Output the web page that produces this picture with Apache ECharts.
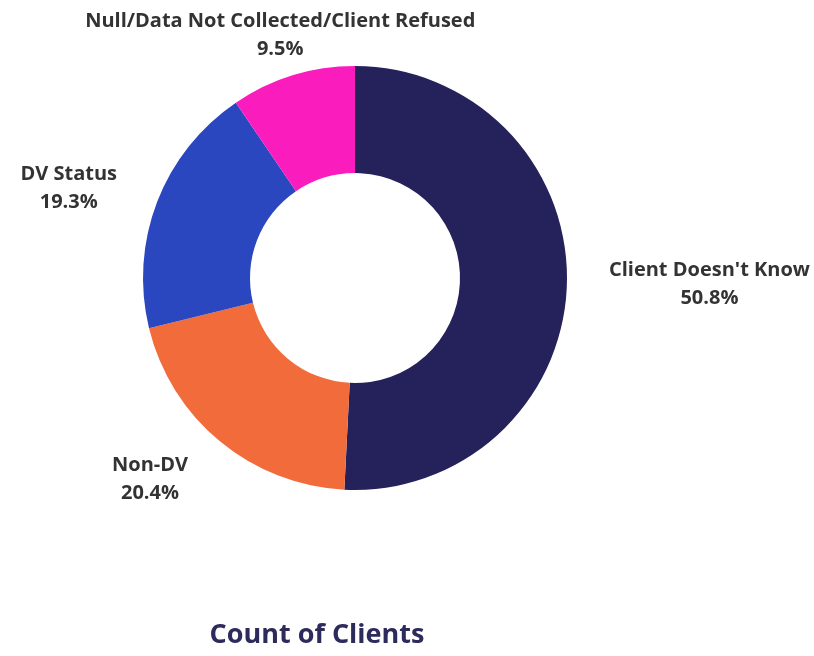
<!DOCTYPE html>
<html>
<head>
<meta charset="utf-8">
<title>Count of Clients</title>
<script src="https://cdn.jsdelivr.net/npm/echarts@6/dist/echarts.min.js"></script>
<style>
  html, body { margin: 0; padding: 0; background: #ffffff; }
  #chart { width: 814px; height: 656px; }
</style>
</head>
<body>
<div id="chart"></div>
<script>
// Client counts by DV (domestic violence) status, as shares of all clients
const categories = [
  "Client Doesn't Know",
  "Non-DV",
  "DV Status",
  "Null/Data Not Collected/Client Refused"
];
const shares = [50.8, 20.4, 19.3, 9.5];
const sliceColors = ['#25215A', '#F16B3B', '#2A47BF', '#FB1CBE'];
const chartTitle = 'Count of Clients';

// Donut geometry (pixels)
const CX = 355, CY = 278, INNER = 105, OUTER = 212;
const SIDE_PUSH = 28;   // extra radial offset for labels beside the ring
const TOP_GAP = 13;     // gap for labels sitting above/below the ring
// Wide series viewport so long outside labels are never truncated
const VIEW_LEFT = -1000, VIEW_WIDTH = 3000;

const total = shares.reduce((a, b) => a + b, 0);

// Mid angle of a slice, clockwise from 12 o'clock, in radians
function midAngle(i) {
  let before = 0;
  for (let j = 0; j < i; j++) before += shares[j];
  return (before + shares[i] / 2) / total * Math.PI * 2;
}

const chart = echarts.init(document.getElementById('chart'), null, { renderer: 'canvas' });

chart.setOption({
  animation: false,
  backgroundColor: '#ffffff',
  title: {
    text: chartTitle,
    left: 312,
    top: 617,
    textAlign: 'center',
    textStyle: {
      fontFamily: 'Open Sans',
      fontWeight: 'bold',
      fontSize: 27,
      color: '#2D2A5C'
    }
  },
  series: [{
    type: 'pie',
    left: VIEW_LEFT,
    top: 0,
    width: VIEW_WIDTH,
    height: 656,
    center: [CX - VIEW_LEFT, CY],
    radius: [INNER, OUTER],
    startAngle: 90,
    clockwise: true,
    percentPrecision: 1,
    silent: true,
    data: categories.map((name, i) => ({
      name: name,
      value: shares[i],
      itemStyle: { color: sliceColors[i] }
    })),
    itemStyle: { borderWidth: 0 },
    label: {
      show: true,
      position: 'outside',
      formatter: '{b}\n{d}%',
      fontFamily: 'Open Sans',
      fontWeight: 'bold',
      fontSize: 20,
      lineHeight: 28,
      color: '#333333'
    },
    labelLine: { show: false, length: 2, length2: 2 },
    // Place each label just outside its slice, centred text
    labelLayout: function (params) {
      const a = midAngle(params.dataIndex);
      const ux = Math.sin(a), uy = -Math.cos(a);
      const hw = params.labelRect.width / 2;
      const hh = params.labelRect.height / 2;
      let x, y;
      if (Math.abs(uy) > 0.9) {
        // near the top or bottom: centre the box on the mid-angle ray
        const d = OUTER + TOP_GAP + hh / Math.abs(uy);
        x = CX + ux * d;
        y = CY + uy * d;
      } else {
        const px = CX + ux * (OUTER + SIDE_PUSH);
        const py = CY + uy * (OUTER + SIDE_PUSH);
        const sx = ux < 0 ? -1 : 1, sy = uy < 0 ? -1 : 1;
        x = px + sx * (hw + hh / 2);
        y = py + sy * hh / (1 + (ux * ux) / (uy * uy));
      }
      return { x: x, y: y, align: 'center', verticalAlign: 'middle' };
    }
  }]
});
</script>
</body>
</html>
